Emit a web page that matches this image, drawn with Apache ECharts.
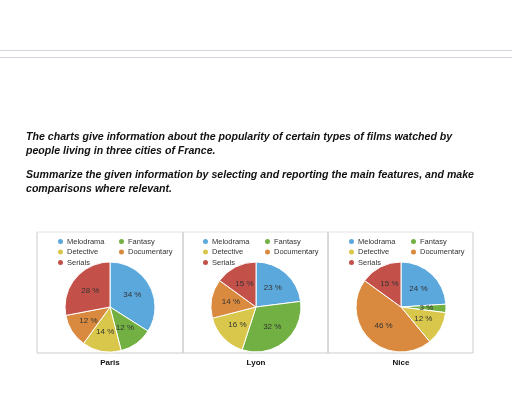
<!DOCTYPE html>
<html><head><meta charset="utf-8">
<script src="https://cdn.jsdelivr.net/npm/echarts@6/dist/echarts.min.js"></script>
<style>html,body{margin:0;padding:0;background:#fff}#c{width:512px;height:403px}</style>
</head><body><div id="c"></div>
<script>
const categories = ['Melodrama','Fantasy','Detective','Documentary','Serials'];
const cities = ['Paris','Lyon','Nice'];
const paris = [34,12,14,12,28];
const lyon = [23,32,16,14,15];
const nice = [24,3,12,46,15];
const colors = ['#5ba8dc','#72b043','#d8c74b','#d98a3e','#c4504a'];
const allData = [paris, lyon, nice];
const centersX = [110, 256, 401];
const legendX = [51, 196, 342];
const legendX2 = [112, 258, 404];
const font = 'Liberation Sans, Arial, sans-serif';

const series = [], legends = [], graphics = [];
allData.forEach((vals, i) => {
  series.push({
    type:'pie', radius:45, center:[centersX[i],307], startAngle:90, clockwise:true,
    animation:false,
    itemStyle:{borderColor:'#fff',borderWidth:1},
    label:{show:true,position:'inside',formatter:'{c} %',fontSize:8,color:'#333',fontFamily:font},
    labelLine:{show:false},
    data: categories.map((c,k)=>({name:c,value:vals[k],itemStyle:{color:colors[k]}}))
  });
  const ts = {fontSize:7.5,color:'#333',fontFamily:font,padding:[0,0,0,-2]};
  legends.push({orient:'vertical',left:legendX[i],top:232,itemGap:1.5,itemWidth:7,itemHeight:7,icon:'circle',
    textStyle:ts,selectedMode:false,data:['Melodrama','Detective','Serials']});
  legends.push({orient:'vertical',left:legendX2[i],top:232,itemGap:1.5,itemWidth:7,itemHeight:7,icon:'circle',
    textStyle:ts,selectedMode:false,data:['Fantasy','Documentary']});
  graphics.push({type:'text',x:centersX[i],y:363,style:{text:cities[i],font:'bold 8px '+font,fill:'#111',textAlign:'center',textVerticalAlign:'middle'}});
});
[[37,183],[183,328],[328,473]].forEach(([a,b])=>{
  graphics.push({type:'line',shape:{x1:a,y1:232,x2:a,y2:353},style:{stroke:'#ccc',lineWidth:1}});
  graphics.push({type:'line',shape:{x1:b,y1:232,x2:b,y2:353},style:{stroke:'#ccc',lineWidth:1}});
  graphics.push({type:'line',shape:{x1:a,y1:232,x2:b,y2:232},style:{stroke:'#e2e2e2',lineWidth:1}});
  graphics.push({type:'line',shape:{x1:a,y1:353,x2:b,y2:353},style:{stroke:'#ccc',lineWidth:1}});
});
graphics.push({type:'line',shape:{x1:0,y1:50.5,x2:512,y2:50.5},style:{stroke:'#d4d4dc',lineWidth:1}});
graphics.push({type:'line',shape:{x1:0,y1:57.5,x2:512,y2:57.5},style:{stroke:'#d4d4dc',lineWidth:1}});
const para1 = 'The charts give information about the popularity of certain types of films watched by\npeople living in three cities of France.';
const para2 = 'Summarize the given information by selecting and reporting the main features, and make\ncomparisons where relevant.';
graphics.push({type:'text',x:26,y:130,style:{text:para1,font:'italic bold 10.6px '+font,fill:'#111',lineHeight:14}});
graphics.push({type:'text',x:26,y:168,style:{text:para2,font:'italic bold 10.6px '+font,fill:'#111',lineHeight:14}});

const chart = echarts.init(document.getElementById('c'));
chart.setOption({animation:false,legend:legends,series:series,graphic:graphics});
</script></body></html>
